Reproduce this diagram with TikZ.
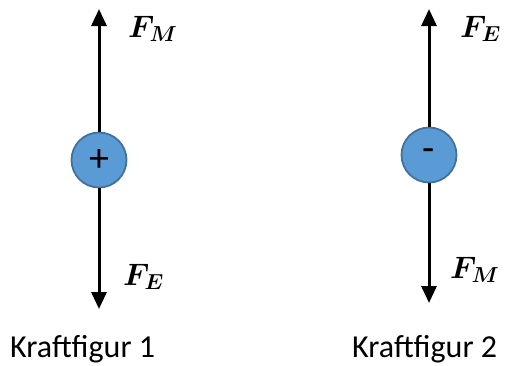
\RequirePackage{fix-cm}
\documentclass[tikz,border=0pt]{standalone}
\usepackage{fontspec}
\usepackage{amsmath}
\usepackage{bm}
\setmainfont{Carlito}
\usetikzlibrary{arrows.meta}
\definecolor{chargefill}{HTML}{5B9BD5}
\definecolor{chargeedge}{HTML}{41719C}
\begin{document}
\begin{tikzpicture}[x=1pt,y=-1pt,
  charge/.style={circle,fill=chargefill,draw=chargeedge,line width=1.8pt,minimum size=55pt,inner sep=0pt,font=\fontsize{40}{40}\selectfont},
  force/.style={line width=3pt,-{Triangle[width=15pt,length=17pt]}},
  flabel/.style={anchor=base west,inner sep=0pt,font=\fontsize{31}{31}\selectfont},
  caption/.style={anchor=base west,inner sep=0pt,font=\fontsize{32}{38}\selectfont}]
\useasboundingbox (0,0) rectangle (505,365);
% figure 1
\node[charge] (c1) at (99,160) {+};
\coordinate (t1) at (99,9);
\coordinate (b1) at (99,309);
\draw[force] (c1.north) -- (t1);
\draw[force] (c1.south) -- (b1);
\node[flabel] (fm1) at (128,37) {$\bm{F_M}$};
\node[flabel] (fe1) at (123,285) {$\bm{F_E}$};
\node[caption] (cap1) at (10,357) {Kraftfigur 1};
% figure 2
\node[charge] (c2) at (429,155) {-};
\coordinate (t2) at (429,9);
\coordinate (b2) at (429,303);
\draw[force] (c2.north) -- (t2);
\draw[force] (c2.south) -- (b2);
\node[flabel] (fe2) at (460,37) {$\bm{F_E}$};
\node[flabel] (fm2) at (450,278) {$\bm{F_M}$};
\node[caption] (cap2) at (352,357) {Kraftfigur 2};
\end{tikzpicture}
\end{document}
